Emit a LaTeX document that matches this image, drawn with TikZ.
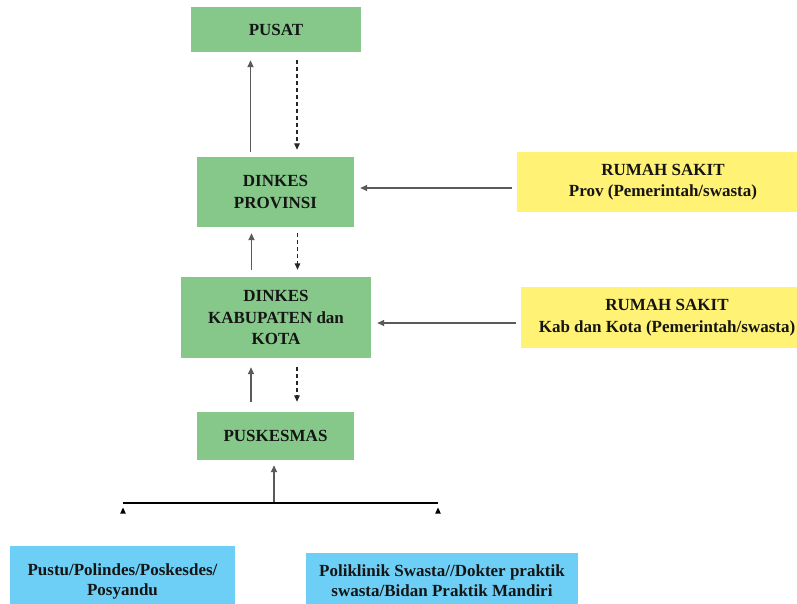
\documentclass[tikz,border=0pt]{standalone}
\usepackage{fontspec}
\setmainfont{Liberation Serif}
\usetikzlibrary{arrows.meta}
\definecolor{boxgreen}{HTML}{86C88A}
\definecolor{boxyellow}{HTML}{FFF275}
\definecolor{boxblue}{HTML}{6ECFF6}
\definecolor{linegray}{HTML}{5A5A5A}
\definecolor{txt}{HTML}{151515}
\begin{document}
\begin{tikzpicture}[x=1pt,y=-1pt,
  box/.style={rectangle,inner sep=0pt,align=center,text=txt,
    font=\fontsize{17}{21.5}\selectfont\bfseries},
  govbox/.style={box,fill=boxgreen},
  rsbox/.style={box,fill=boxyellow},
  basebox/.style={box,fill=boxblue,font=\fontsize{17}{20}\selectfont\bfseries},
  up/.style={draw=linegray,line width=1.9pt,-{Triangle[length=7pt,width=6pt]}},
  down/.style={draw=black!85,line width=1.3pt,dash pattern=on 4pt off 3pt,
    -{Triangle[length=6.5pt,width=5.5pt]}},
  feed/.style={draw=linegray,line width=2pt,-{Triangle[length=7pt,width=6pt]}},
]
\useasboundingbox (0,0) rectangle (797,604);

% administrative chain
\node[govbox,minimum width=170pt,minimum height=45pt] (pusat) at (276,29.5) {PUSAT};
\node[govbox,minimum width=157pt,minimum height=70pt] (prov) at (275.5,192) {DINKES\\PROVINSI};
\node[govbox,minimum width=190pt,minimum height=81pt] (kab) at (276,317.5) {DINKES\\KABUPATEN dan\\KOTA};
\node[govbox,minimum width=157pt,minimum height=48pt] (pusk) at (275.5,436) {PUSKESMAS};

% hospitals
\node[rsbox,minimum width=292pt,minimum height=60pt] (rs1) at (663,182) {RUMAH SAKIT\\Prov (Pemerintah/swasta)};
\node[rsbox,minimum width=292pt,minimum height=61pt] (rs2) at (667,317.5) {RUMAH SAKIT\\Kab dan Kota (Pemerintah/swasta)};

% first-level facilities
\node[basebox,minimum width=225pt,minimum height=70pt] (pustu) at (122.5,581) {Pustu/Polindes/Poskesdes/\\Posyandu};
\node[basebox,minimum width=272pt,minimum height=56pt] (klinik) at (442,581) {Poliklinik Swasta//Dokter praktik\\swasta/Bidan Praktik Mandiri};

% reporting up (solid) and feedback down (dashed)
\draw[up,shorten <=5pt,shorten >=8pt] ([xshift=-25pt]prov.north) -- ([xshift=-25pt]prov.north |- pusat.south);
\draw[down,shorten <=8pt,shorten >=7pt] ([xshift=21.5pt]prov.north |- pusat.south) -- ([xshift=21.5pt]prov.north);
\draw[up,shorten <=7pt,shorten >=6pt] ([xshift=-24.5pt]kab.north) -- ([xshift=-24.5pt]kab.north |- prov.south);
\draw[down,shorten <=6pt,shorten >=7pt] ([xshift=21.5pt]kab.north |- prov.south) -- ([xshift=21.5pt]kab.north);
\draw[up,shorten <=10pt,shorten >=9pt] ([xshift=-24.5pt]pusk.north) -- ([xshift=-24.5pt]pusk.north |- kab.south);
\draw[down,shorten <=9pt,shorten >=10pt] ([xshift=21.5pt]pusk.north |- kab.south) -- ([xshift=21.5pt]pusk.north);

% hospitals report to the health offices
\coordinate (y1) at (0,188);
\coordinate (y2) at (0,323);
\draw[feed,shorten <=5pt,shorten >=6pt] (rs1.west |- y1) -- (prov.east |- y1);
\draw[feed,shorten <=5pt,shorten >=6pt] (rs2.west |- y2) -- (kab.east |- y2);

% collecting line from the first-level facilities
\coordinate (busL) at (123,503);
\coordinate (busR) at (438,503);
\coordinate (busM) at (274,503);
\draw[black,line width=2.2pt] (busL) -- (busR);
\draw[up,line width=1.7pt,shorten <=1pt,shorten >=5pt] (busM) -- (busM |- pusk.south);
\fill[black] ([yshift=-4.5pt]busL) -- ++(2.8,6) -- ++(-5.6,0) -- cycle;
\fill[black] ([yshift=-4.5pt]busR) -- ++(2.8,6) -- ++(-5.6,0) -- cycle;
\end{tikzpicture}
\end{document}
